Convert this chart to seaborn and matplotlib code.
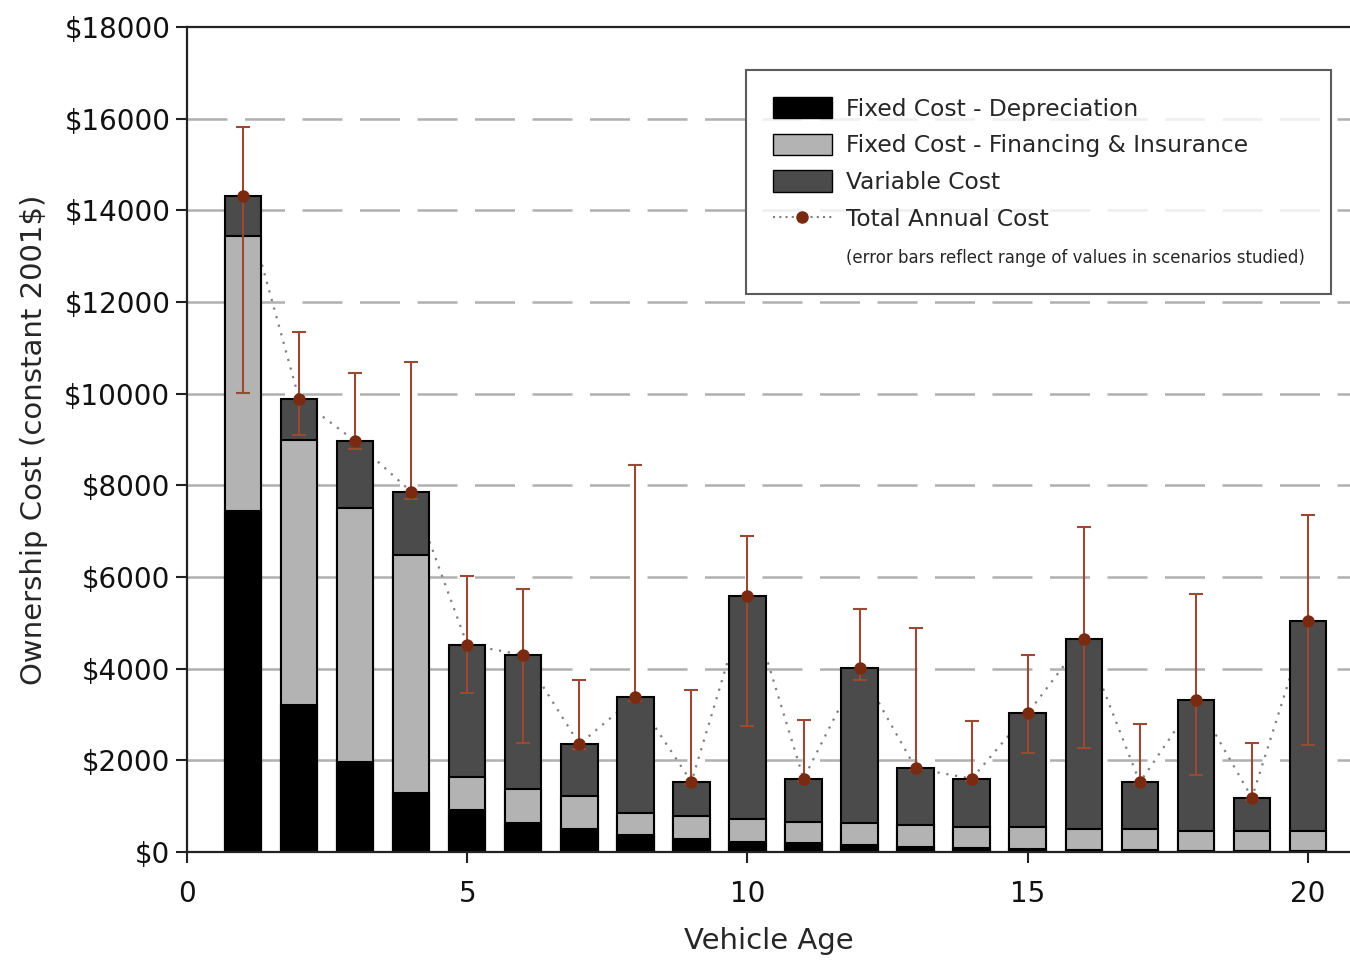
import numpy as np
import pandas as pd
import matplotlib
matplotlib.use("Agg")
import matplotlib.pyplot as plt
import seaborn as sns
from matplotlib.lines import Line2D
from matplotlib.patches import Patch
from matplotlib.ticker import FuncFormatter

# vehicle age 1..20
ages = list(range(1, 21))

# cost components (constant 2001$)
depreciation = [7450, 3200, 1960, 1290, 915, 630, 500, 370, 290, 215,
                190, 150, 115, 80, 60, 45, 35, 25, 20, 15]
financing = [5990, 5790, 5540, 5200, 715, 755, 725, 490, 495, 505,
             470, 475, 475, 472, 492, 457, 467, 441, 446, 451]
variable = [870, 900, 1465, 1370, 2895, 2913, 1127, 2518, 745, 4870,
            940, 3383, 1236, 1048, 2474, 4138, 1018, 2850, 719, 4581]

# range of total annual cost across scenarios
err_high = [15820, 11340, 10450, 10690, 6020, 5735, 3750, 8440, 3540, 6895,
            2880, 5310, 4895, 2858, 4298, 7085, 2785, 5630, 2386, 7353]
err_low = [10020, 9100, 8800, 7700, 3470, 2370, 2250, 3300, 1480, 2750,
           1560, 3750, 1780, 1560, 2160, 2262, 1480, 1680, 1140, 2335]

df = pd.DataFrame({"age": ages, "dep": depreciation, "fin": financing, "var": variable})
df["dep_fin"] = df["dep"] + df["fin"]
df["total"] = df["dep_fin"] + df["var"]

sns.set_theme(style="white")
plt.rcParams["font.family"] = ["DejaVu Sans"]

black_c = "#000000"
light_c = "#b3b3b3"
dark_c = "#4b4b4b"
err_c = "#9a4a32"
dot_c = "#7a2a10"

fig = plt.figure(figsize=(13.5, 9.61), dpi=100)
ax = fig.add_axes([0.1385, 0.1134, 0.8615, 0.8585])

# dotted total line sits behind the bars
sns.lineplot(data=df, x="age", y="total", ax=ax, color="#808080",
             linestyle=(0, (1, 3)), linewidth=1.6, zorder=0.9)

# stacked bars drawn as overlapping cumulative heights
for col, c in [("total", dark_c), ("dep_fin", light_c), ("dep", black_c)]:
    sns.barplot(data=df, x="age", y=col, native_scale=True, width=0.65,
                color=c, saturation=1, edgecolor="black", linewidth=1.5,
                errorbar=None, ax=ax, zorder=1)

yerr = [df["total"] - np.array(err_low), np.array(err_high) - df["total"]]
ax.errorbar(df["age"], df["total"], yerr=yerr, fmt="none", ecolor=err_c,
            elinewidth=1.5, capsize=5, capthick=1.5, zorder=3)
sns.scatterplot(data=df, x="age", y="total", ax=ax, color=dot_c, s=80,
                edgecolor=dot_c, linewidth=0, zorder=4)

ax.set_xlim(0, 20.75)
ax.set_ylim(0, 18000)
ax.set_xticks([0, 5, 10, 15, 20])
ax.set_xticklabels(["0", "5", "10", "15", "20"])
ax.set_yticks(range(0, 18001, 2000))
ax.yaxis.set_major_formatter(FuncFormatter(lambda v, p: f"${int(v)}"))

for y in range(2000, 18000, 2000):
    ax.axhline(y, color="#b0b0b0", linewidth=1.8, linestyle=(0, (16, 7)), zorder=0.5)

for s in ["left", "bottom", "top"]:
    ax.spines[s].set_color("#222222")
    ax.spines[s].set_linewidth(1.6)
ax.spines["right"].set_visible(False)

ax.tick_params(axis="both", direction="out", length=8, width=1.5,
               color="#222222", labelsize=20, labelcolor="#111111", pad=4,
               left=True, bottom=True)
ax.tick_params(axis="x", pad=12)
ax.set_xlabel("Vehicle Age", fontsize=21, labelpad=14)
ax.set_ylabel("Ownership Cost (constant 2001$)", fontsize=21, labelpad=12)

handles = [
    Patch(facecolor=black_c, edgecolor="black", label="Fixed Cost - Depreciation"),
    Patch(facecolor=light_c, edgecolor="black", label="Fixed Cost - Financing & Insurance"),
    Patch(facecolor=dark_c, edgecolor="black", label="Variable Cost"),
    Line2D([], [], color="#808080", linestyle=(0, (1, 2)), marker="o",
           markersize=8, markerfacecolor=dot_c, markeredgecolor=dot_c,
           label="Total Annual Cost"),
    Line2D([], [], linestyle="none", label="(error bars reflect range of values in scenarios studied)"),
]
leg = ax.legend(handles=handles, loc="upper left", bbox_to_anchor=(0.481, 0.948),
                fontsize=16.8, frameon=True, fancybox=False, handlelength=2.5,
                handleheight=1.05, handletextpad=0.6, labelspacing=0.56,
                borderpad=1.15, borderaxespad=0)
leg.get_frame().set_edgecolor("#333333")
leg.get_frame().set_linewidth(1.5)
leg.get_texts()[4].set_fontsize(12)

fig.savefig("out.png", dpi=100)
